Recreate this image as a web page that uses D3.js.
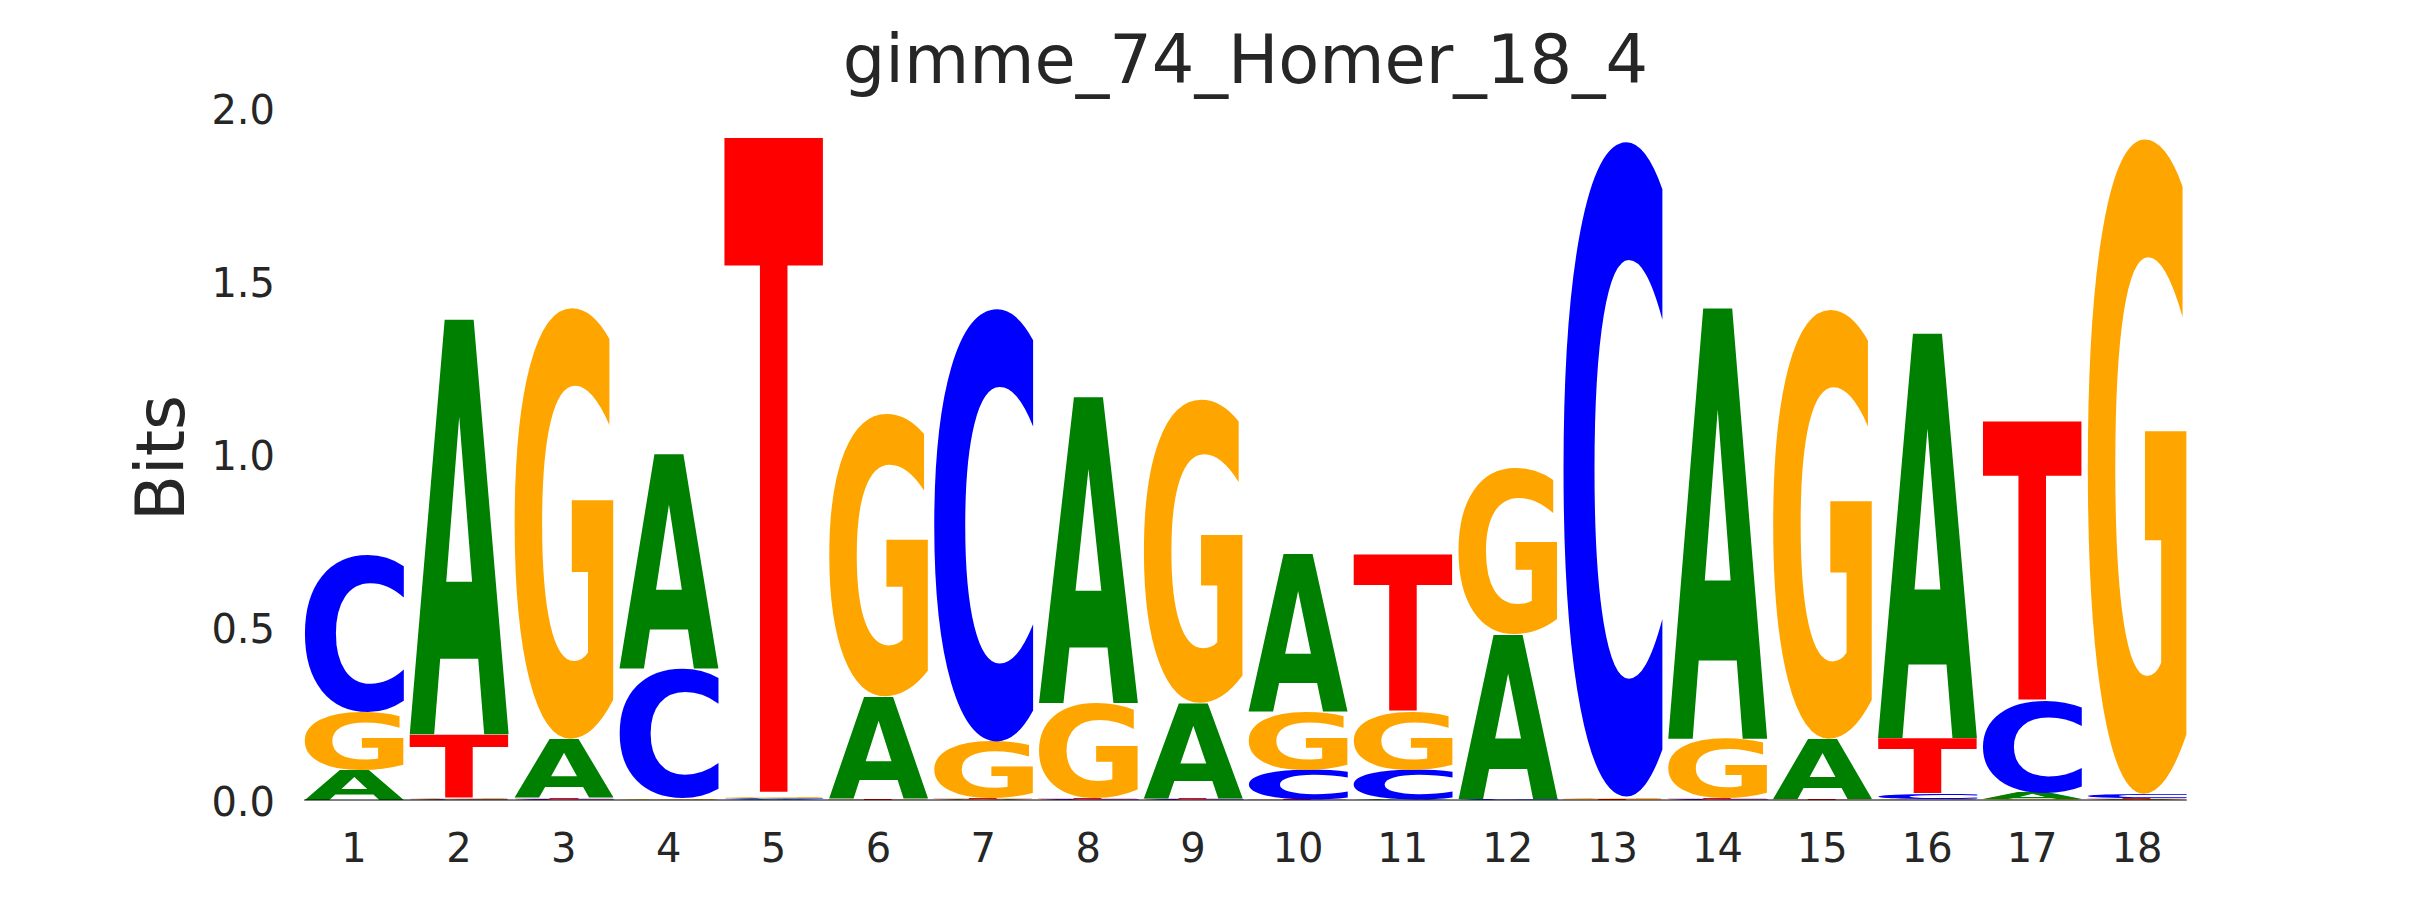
<!DOCTYPE html>
<html>
<head>
<meta charset="utf-8">
<script src="https://cdn.jsdelivr.net/npm/d3@7"></script>
<style>
  html, body { margin: 0; padding: 0; background: #ffffff; }
  svg { display: block; }
</style>
</head>
<body>
<svg id="chart" width="2430" height="900"></svg>
<script>
// ---- data (bits per letter at each position) ----
const positions = [1, 2, 3, 4, 5, 6, 7, 8, 9, 10, 11, 12, 13, 14, 15, 16, 17, 18];
const bases = ["A", "C", "G", "T"];
const bitsA = [0.085, 1.200, 0.170, 0.620, 0.003, 0.295, 0.002, 0.885, 0.275, 0.455, 0.002, 0.475, 0.001, 1.245, 0.172, 1.170, 0.017, 0.003];
const bitsC = [0.453, 0.003, 0.002, 0.375, 0.004, 0.001, 1.255, 0.002, 0.002, 0.085, 0.085, 0.002, 1.900, 0.002, 0.001, 0.015, 0.265, 0.010];
const bitsG = [0.170, 0.004, 1.250, 0.004, 0.004, 0.820, 0.163, 0.275, 0.880, 0.168, 0.168, 0.480, 0.004, 0.172, 1.245, 0.004, 0.003, 1.900];
const bitsT = [0.000, 0.183, 0.004, 0.001, 1.905, 0.003, 0.003, 0.003, 0.003, 0.002, 0.456, 0.001, 0.003, 0.003, 0.003, 0.160, 0.810, 0.003];
const yTicks = [0, 0.5, 1.0, 1.5, 2.0];
const yTickLabels = ["0.0", "0.5", "1.0", "1.5", "2.0"];
const titleText = "gimme_74_Homer_18_4";
const yLabelText = "Bits";

const baseColor = { A: "#008000", C: "#0000ff", G: "#ffa500", T: "#ff0000" };
const seriesByBase = { A: bitsA, C: bitsC, G: bitsG, T: bitsT };

// ---- layout ----
const svg = d3.select("#chart");
const x = d3.scaleLinear().domain([0.5, 18.5]).range([301.6, 2189.4]);
const y = d3.scaleLinear().domain([0, 2]).range([800, 108]);
const step = x(2) - x(1);
const letterWidth = 0.95;
const textColor = "#262626";

// ---- glyph ink metrics via canvas ----
const canvas = document.createElement("canvas");
const ctx = canvas.getContext("2d");
const FS = 200;
ctx.font = "bold " + FS + "px 'DejaVu Sans'";
const metrics = {};
bases.forEach(b => {
  const m = ctx.measureText(b);
  metrics[b] = {
    L: m.actualBoundingBoxLeft,
    R: m.actualBoundingBoxRight,
    asc: m.actualBoundingBoxAscent,
    desc: m.actualBoundingBoxDescent
  };
});

// ---- build stacks (smallest at bottom) ----
const glyphs = [];
positions.forEach((p, i) => {
  const col = bases.map(b => ({ base: b, v: seriesByBase[b][i] }))
    .filter(d => d.v > 0)
    .sort((a, b) => a.v - b.v);
  let acc = 0;
  col.forEach(d => {
    glyphs.push({ pos: p, base: d.base, y0: acc, y1: acc + d.v });
    acc += d.v;
  });
});

const gLogo = svg.append("g");
gLogo.selectAll("text.glyph")
  .data(glyphs)
  .join("text")
  .attr("class", "glyph")
  .attr("font-family", "'DejaVu Sans'")
  .attr("font-weight", "bold")
  .attr("font-size", FS)
  .attr("fill", d => baseColor[d.base])
  .attr("transform", d => {
    const m = metrics[d.base];
    const W = m.L + m.R, H = m.asc + m.desc;
    const x0 = x(d.pos) - letterWidth * step / 2;
    const w = letterWidth * step;
    const top = y(d.y1);
    const h = y(d.y0) - y(d.y1);
    return `translate(${x0},${top}) scale(${w / W},${h / H}) translate(${m.L},${m.asc})`;
  })
  .text(d => d.base);

// baseline
svg.append("line")
  .attr("x1", x(1) - letterWidth * step / 2)
  .attr("x2", x(18) + letterWidth * step / 2)
  .attr("y1", y(0)).attr("y2", y(0))
  .attr("stroke", "#000000")
  .attr("stroke-width", 1.2);

// y tick labels
svg.append("g").selectAll("text")
  .data(yTicks)
  .join("text")
  .attr("x", 275)
  .attr("y", d => y(d) + 15.5)
  .attr("text-anchor", "end")
  .attr("font-family", "'DejaVu Sans'")
  .attr("font-size", 40)
  .attr("fill", textColor)
  .text((d, i) => yTickLabels[i]);

// x tick labels
svg.append("g").selectAll("text")
  .data(positions)
  .join("text")
  .attr("x", d => x(d))
  .attr("y", 862)
  .attr("text-anchor", "middle")
  .attr("font-family", "'DejaVu Sans'")
  .attr("font-size", 40)
  .attr("fill", textColor)
  .text(d => String(d));

// y label
svg.append("text")
  .attr("transform", `translate(184,${(y(0) + y(2)) / 2 + 4}) rotate(-90)`)
  .attr("text-anchor", "middle")
  .attr("font-family", "'DejaVu Sans'")
  .attr("font-size", 67)
  .attr("fill", textColor)
  .text(yLabelText);

// title
svg.append("text")
  .attr("x", (x.range()[0] + x.range()[1]) / 2)
  .attr("y", 83)
  .attr("text-anchor", "middle")
  .attr("font-family", "'DejaVu Sans'")
  .attr("font-size", 67)
  .attr("fill", textColor)
  .text(titleText);
</script>
</body>
</html>
